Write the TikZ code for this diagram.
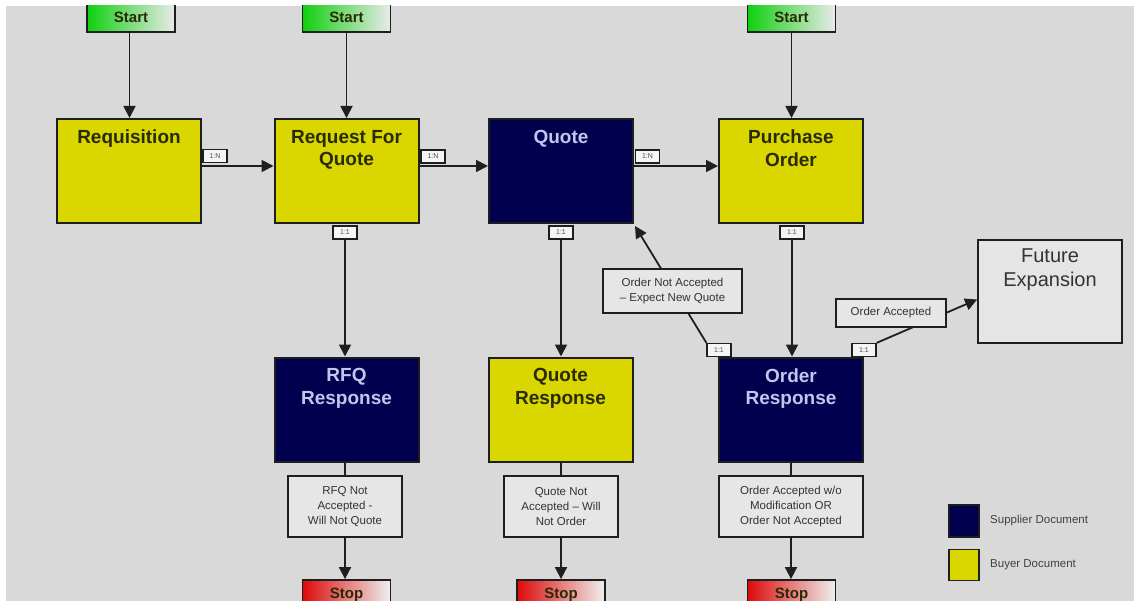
\documentclass[tikz,border=0pt]{standalone}
\usepackage{fontspec}
\setmainfont{Liberation Sans}
\usetikzlibrary{arrows.meta}
\definecolor{bgc}{HTML}{D9D9D9}
\definecolor{ylw}{HTML}{D9D600}
\definecolor{navy}{HTML}{00004E}
\definecolor{bordc}{HTML}{1E1E1E}
\definecolor{oliv}{HTML}{2A2A05}
\definecolor{lav}{HTML}{C4C4EE}
\definecolor{grn}{HTML}{10D010}
\definecolor{rd}{HTML}{DD0A0A}
\definecolor{lbfill}{HTML}{E6E6E6}
\tikzset{
  box/.style={draw=bordc, line width=2pt, minimum width=144pt, minimum height=104pt, inner sep=0pt},
  buyer/.style={box, fill=ylw},
  supplier/.style={box, fill=navy},
  btxt/.style={font=\bfseries\fontsize{19}{22.5}\selectfont, text=oliv, align=center, inner sep=0pt},
  stxt/.style={font=\bfseries\fontsize{19}{22.5}\selectfont, text=lav, align=center, inner sep=0pt},
  startbox/.style={draw=bordc, line width=1.8pt, minimum width=88pt, minimum height=30pt, inner sep=0pt,
    left color=grn, right color=black!8, font=\bfseries\fontsize{15}{17}\selectfont, text=oliv},
  stopbox/.style={draw=bordc, line width=1.8pt, minimum width=88pt, minimum height=30pt, inner sep=0pt,
    left color=rd, right color=black!6, font=\bfseries\fontsize{15}{17}\selectfont, text=oliv},
  tagbox/.style={draw=bordc, fill=black!4, line width=1.2pt, minimum width=24pt, minimum height=13pt, inner sep=0pt,
    font=\fontsize{7}{7}\selectfont, text=black!70},
  lbox/.style={draw=bordc, fill=lbfill, line width=1.3pt, inner sep=0pt, align=center,
    font=\fontsize{11.5}{15}\selectfont, text=black!80},
  arr/.style={draw=black!88, line width=1.8pt, -{Triangle[length=12pt,width=12pt]}},
  ln/.style={draw=black!88, line width=1.8pt},
  lgtxt/.style={font=\fontsize{11.5}{13}\selectfont, text=black!75, anchor=west, inner sep=0pt}
}
\begin{document}
\begin{tikzpicture}[x=1pt,y=-1pt]
\useasboundingbox[fill=white] (0,0) rectangle (1134,601);
\clip (6,6) rectangle (1134,601);
\fill[bgc] (6,6) rectangle (1134,601);

% start nodes
\node[startbox] (s1) at (131,17) {Start};
\node[startbox] (s2) at (346.5,17) {Start};
\node[startbox] (s3) at (791.5,17) {Start};

% main boxes
\node[buyer, label={[btxt, below=12pt]north:Requisition}] (req) at (129,171) {};
\node[buyer, label={[btxt, below=12pt]north:{Request For\\Quote}}] (rfq) at (346.5,171) {};
\node[supplier, label={[stxt, below=12pt]north:Quote}] (quote) at (561,171) {};
\node[buyer, label={[btxt, below=12pt]north:{Purchase\\Order}}] (po) at (791,171) {};

\node[supplier, label={[stxt, below=12pt]north:{RFQ\\Response}}] (rfqr) at (346.5,409.5) {};
\node[buyer, label={[btxt, below=12pt]north:{Quote\\Response}}] (qr) at (560.5,409.5) {};
\node[supplier, label={[stxt, below=12pt]north:{Order\\Response}}] (orr) at (791,409.5) {};

\node[draw=bordc, line width=1.8pt, fill=black!10, minimum width=144pt, minimum height=103pt, inner sep=0pt,
  label={[font=\fontsize{20}{24}\selectfont, text=black!80, align=center, inner sep=0pt, below=9pt]north:{Future\\Expansion}}]
  (fut) at (1050,291.5) {};

% cardinality tags
\node[tagbox] (t1) at (215,156) {1:N};
\node[tagbox] (t2) at (433,156.5) {1:N};
\node[tagbox] (t3) at (647.5,156.5) {1:N};
\node[tagbox] (t4) at (345,232.5) {1:1};
\node[tagbox] (t5) at (561,232.5) {1:1};
\node[tagbox] (t6) at (792,232.5) {1:1};
\node[tagbox] (t7) at (719,350) {1:1};
\node[tagbox] (t8) at (864,350) {1:1};

% arrows from start
\draw[arr] ([xshift=-1.5pt]s1.south) -- ([xshift=-1.5pt]s1.south |- req.north);
\draw[arr] (s2) -- (rfq);
\draw[arr] (s3) -- (s3 |- po.north);

% horizontal flow
\draw[arr] ([yshift=5pt]req.east) -- ([yshift=5pt]rfq.west);
\draw[arr] ([yshift=5pt]rfq.east) -- ([yshift=5pt]quote.west);
\draw[arr] ([yshift=5pt]quote.east) -- ([yshift=5pt]po.west);

% vertical flow
\draw[arr] (t4) -- (t4 |- rfqr.north);
\draw[arr] (t5) -- (t5 |- qr.north);
\draw[arr] (t6) -- (t6 |- orr.north);

% order response feedback
\draw[arr] (t7.north west) -- ([xshift=1pt,yshift=-2pt]quote.south east);
\draw[arr] (t8.north east) -- ([yshift=-8pt]fut.west);

% labels on connectors
\node[lbox, minimum width=139pt, minimum height=44pt] (l4) at (672.5,291) {Order Not Accepted\\-- Expect New Quote};
\node[lbox, minimum width=110pt, minimum height=28pt] (l5) at (891,313) {Order Accepted};

\node[lbox, minimum width=114pt, minimum height=61pt] (l1) at (345,506.5) {RFQ Not\\Accepted -\\Will Not Quote};
\node[lbox, minimum width=114pt, minimum height=61pt] (l2) at (561,506.5) {Quote Not\\Accepted -- Will\\Not Order};
\node[lbox, minimum width=144pt, minimum height=61pt] (l3) at (791,506.5) {Order Accepted w/o\\Modification OR\\Order Not Accepted};

% stop nodes
\node[stopbox] (e1) at (346.5,595) {Stop};
\node[stopbox] (e2) at (561,595) {Stop};
\node[stopbox] (e3) at (791.5,595) {Stop};

\draw[ln] (rfqr.south -| l1) -- (l1);
\draw[ln] (qr.south -| l2) -- (l2);
\draw[ln] (orr) -- (l3);
\draw[arr] (l1) -- (l1 |- e1.north);
\draw[arr] (l2) -- (l2 |- e2.north);
\draw[arr] (l3) -- (l3 |- e3.north);

% legend
\node[draw=bordc, line width=1.6pt, fill=navy, minimum width=30pt, minimum height=32pt, inner sep=0pt] (lg1) at (964,521) {};
\node[draw=bordc, line width=1.6pt, fill=ylw, minimum width=30pt, minimum height=31pt, inner sep=0pt] (lg2) at (964,565) {};
\node[lgtxt] (lt1) at (990,521) {Supplier Document};
\node[lgtxt] (lt2) at (990,565) {Buyer Document};
\end{tikzpicture}
\end{document}
